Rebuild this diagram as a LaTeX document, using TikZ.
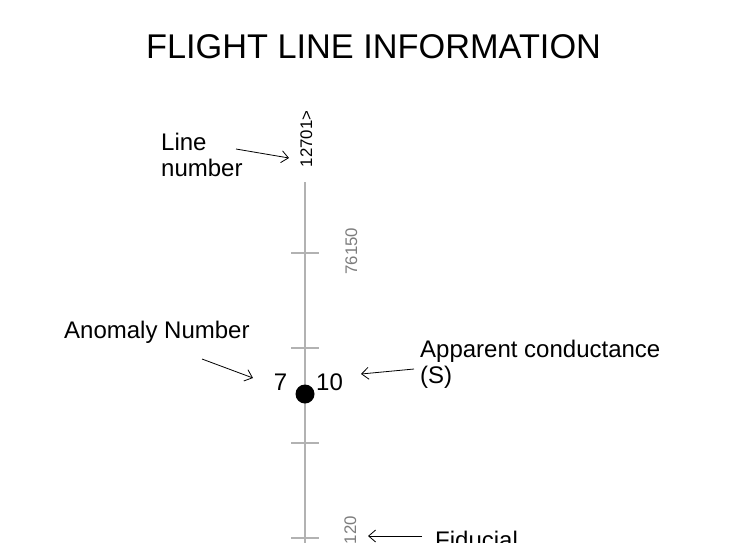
\documentclass[tikz,border=0pt]{standalone}
\usepackage{fontspec}
\setmainfont{Liberation Sans}
\usetikzlibrary{arrows.meta}

\definecolor{axisgray}{RGB}{178,178,178}
\definecolor{numgray}{RGB}{125,125,125}

\begin{document}
\begin{tikzpicture}[x=1pt,y=-1pt,
  label/.style={inner sep=0pt, font=\fontsize{24}{25.5}\selectfont, text=black},
  fidnum/.style={inner sep=0pt, rotate=90, anchor=base, font=\fontsize{16.8}{18}\selectfont},
  pointer/.style={draw=black, line width=0.8pt, -{Straight Barb[length=7pt,width=12pt,line width=0.8pt]}},
  axis/.style={draw=axisgray, line width=2pt},
  tick/.style={draw=axisgray, line width=1.2pt},
]
  % canvas
  \clip (0,0) rectangle (730,542);
  \fill[white] (0,0) rectangle (730,542);

  % title
  \node[inner sep=0pt, anchor=base, font=\fontsize{34.3}{36}\selectfont] (title) at (373.5,58) {FLIGHT LINE INFORMATION};

  % flight line with fiducial ticks
  \coordinate (ltop) at (305,182);
  \coordinate (lbot) at (305,560);
  \draw[axis] (ltop) -- (lbot);
  \foreach \y [count=\i] in {253,348,443,538} {
    \coordinate (tl\i) at (291,\y);
    \coordinate (tr\i) at (319,\y);
    \draw[tick] (tl\i) -- (tr\i);
  }

  % rotated labels along the line
  \node[fidnum, text=black] (linenum) at (312,139) {12701>};
  \node[fidnum, text=numgray] (fid1) at (357,251) {76150};
  \node[fidnum, text=numgray] (fid2) at (356,530) {120};

  % anomaly marker
  \fill[black] (305,394) circle (9.5);
  \node[label, anchor=base east] (anom) at (287.5,390) {7};
  \node[label, anchor=base west] (cond) at (316,390) {10};

  % explanatory labels
  \node[label, anchor=north west, align=left] (lnlab) at (161,133) {Line\\number};
  \node[label, anchor=base west] (anlab) at (64,338) {Anomaly Number};
  \node[label, anchor=north west, align=left] (aclab) at (420,340) {Apparent conductance\\(S)};
  \node[label, anchor=base west] (fidlab) at (435,548.5) {Fiducial};

  % pointers
  \coordinate (p1a) at (236,149);  \coordinate (p1b) at (289,158);
  \coordinate (p2a) at (202,359);  \coordinate (p2b) at (253,378);
  \coordinate (p3a) at (414,369);  \coordinate (p3b) at (361,374);
  \coordinate (p4a) at (422,536);  \coordinate (p4b) at (368,536);
  \draw[pointer] (p1a) -- (p1b);
  \draw[pointer] (p2a) -- (p2b);
  \draw[pointer] (p3a) -- (p3b);
  \draw[pointer] (p4a) -- (p4b);
\end{tikzpicture}
\end{document}
